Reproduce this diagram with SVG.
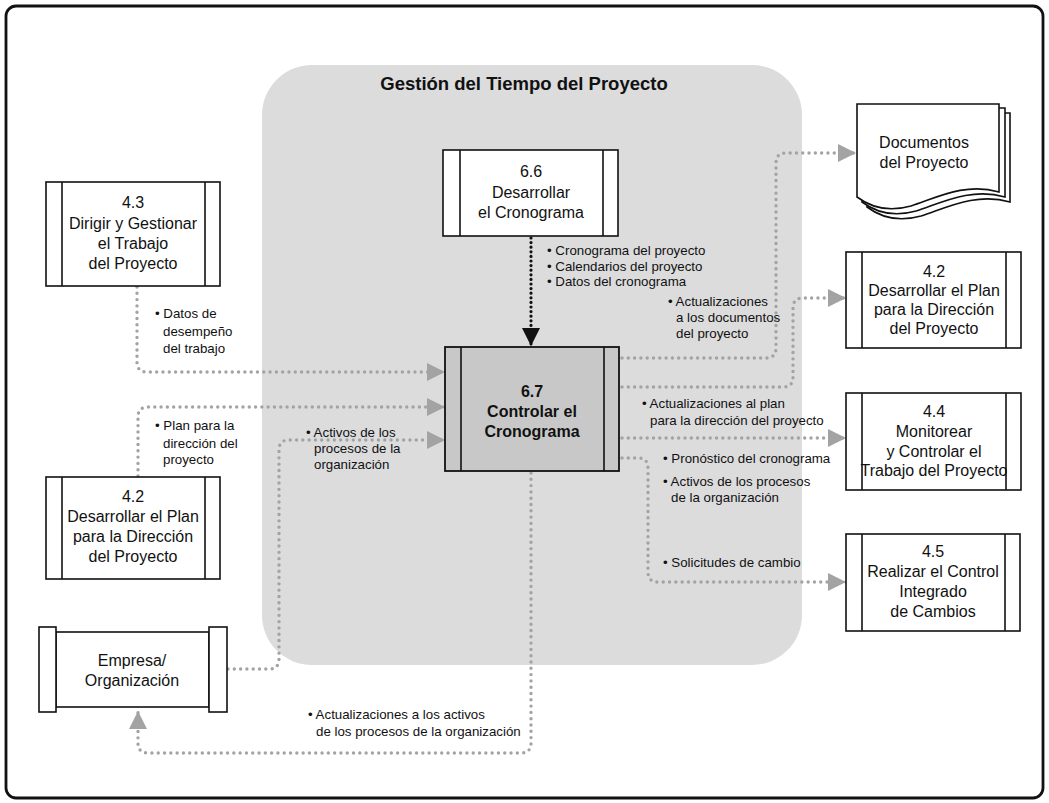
<svg xmlns="http://www.w3.org/2000/svg" width="1049" height="803" viewBox="0 0 1049 803">
<defs>
<style>
.frame{fill:#fff;stroke:#111;stroke-width:2.8}
.region{fill:#dcdcdd}
.box{fill:#fff;stroke:#111;stroke-width:1.6}
.box67{fill:#c8c8c8;stroke:#111;stroke-width:1.8}
.sep{stroke:#111;stroke-width:1.6}
.nt{font-family:"Liberation Sans",Arial,sans-serif;font-size:16px;fill:#111;text-anchor:middle}
.nb{font-family:"Liberation Sans",Arial,sans-serif;font-size:16px;font-weight:bold;fill:#111;text-anchor:middle}
.title{font-family:"Liberation Sans",Arial,sans-serif;font-size:18.5px;font-weight:bold;fill:#111;text-anchor:middle}
.lb{font-family:"Liberation Sans",Arial,sans-serif;font-size:13.3px;fill:#111}
.gd{fill:none;stroke:#a3a3a3;stroke-width:3.4;stroke-linecap:round;stroke-dasharray:0 6.3}
.bd{fill:none;stroke:#111;stroke-width:3.2;stroke-linecap:round;stroke-dasharray:0 4.6}
</style>
<marker id="ag" viewBox="0 0 10 10" refX="10" refY="5" markerWidth="18" markerHeight="18" markerUnits="userSpaceOnUse" orient="auto"><path d="M0,0 L10,5 L0,10 z" fill="#a3a3a3"/></marker>
<marker id="ab" viewBox="0 0 10 10" refX="10" refY="5" markerWidth="19" markerHeight="18" markerUnits="userSpaceOnUse" orient="auto"><path d="M0,0 L10,5 L0,10 z" fill="#111"/></marker>
</defs>

<rect class="frame" x="6" y="6" width="1037" height="792" rx="10"/>
<rect class="region" x="262" y="65" width="540" height="600" rx="50"/>
<text class="title" x="524" y="90">Gestión del Tiempo del Proyecto</text>

<g id="connectors">
<path class="bd" d="M531,238 V346" marker-end="url(#ab)"/>
<path class="gd" d="M137,287 V362 Q137,372 147,372 H445" marker-end="url(#ag)"/>
<path class="gd" d="M138,476 V417 Q138,407 148,407 H445" marker-end="url(#ag)"/>
<path class="gd" d="M228,669 H269 Q279,669 279,659 V450 Q279,440 289,440 H445" marker-end="url(#ag)"/>
<path class="gd" d="M622,358 H766 Q776,358 776,348 V163 Q776,153 786,153 H856" marker-end="url(#ag)"/>
<path class="gd" d="M622,387 H783 Q793,387 793,377 V308 Q793,298 803,298 H846" marker-end="url(#ag)"/>
<path class="gd" d="M622,438 H846" marker-end="url(#ag)"/>
<path class="gd" d="M622,458 H638 Q648,458 648,468 V572 Q648,582 658,582 H846" marker-end="url(#ag)"/>
<path class="gd" d="M531,473 V743 Q531,753 521,753 H148 Q138,753 138,743 V711" marker-end="url(#ag)"/>
</g>

<g id="labels">
<text class="lb" x="155" y="318">• Datos de</text>
<text class="lb" x="163" y="336">desempeño</text>
<text class="lb" x="163" y="353">del trabajo</text>
<text class="lb" x="155" y="430">• Plan para la</text>
<text class="lb" x="163" y="448">dirección del</text>
<text class="lb" x="163" y="464">proyecto</text>
<text class="lb" x="306" y="437">• Activos de los</text>
<text class="lb" x="314" y="453">procesos de la</text>
<text class="lb" x="314" y="469">organización</text>
<text class="lb" x="547" y="255">• Cronograma del proyecto</text>
<text class="lb" x="547" y="271">• Calendarios del proyecto</text>
<text class="lb" x="547" y="286">• Datos del cronograma</text>
<text class="lb" x="668" y="306">• Actualizaciones</text>
<text class="lb" x="676" y="322">a los documentos</text>
<text class="lb" x="676" y="338">del proyecto</text>
<text class="lb" x="642" y="408">• Actualizaciones al plan</text>
<text class="lb" x="650" y="425">para la dirección del proyecto</text>
<text class="lb" x="663" y="463">• Pronóstico del cronograma</text>
<text class="lb" x="663" y="486">• Activos de los procesos</text>
<text class="lb" x="671" y="502">de la organización</text>
<text class="lb" x="663" y="567">• Solicitudes de cambio</text>
<text class="lb" x="308" y="719">• Actualizaciones a los activos</text>
<text class="lb" x="316" y="736">de los procesos de la organización</text>
</g>

<g id="n43">
<rect class="box" x="46" y="182" width="174" height="104"/>
<line class="sep" x1="62" y1="182" x2="62" y2="286"/>
<line class="sep" x1="205" y1="182" x2="205" y2="286"/>
<text class="nt" x="133" y="208">4.3</text>
<text class="nt" x="133" y="229">Dirigir y Gestionar</text>
<text class="nt" x="133" y="249">el Trabajo</text>
<text class="nt" x="133" y="269">del Proyecto</text>
</g>

<g id="n42a">
<rect class="box" x="46" y="477" width="174" height="102"/>
<line class="sep" x1="62" y1="477" x2="62" y2="579"/>
<line class="sep" x1="205" y1="477" x2="205" y2="579"/>
<text class="nt" x="133" y="502">4.2</text>
<text class="nt" x="133" y="522">Desarrollar el Plan</text>
<text class="nt" x="133" y="542">para la Dirección</text>
<text class="nt" x="133" y="562">del Proyecto</text>
</g>

<g id="nEmpresa">
<rect class="box" x="56" y="632" width="153" height="75"/>
<rect class="box" x="39" y="627" width="17" height="85"/>
<rect class="box" x="209" y="627" width="18" height="85"/>
<text class="nt" x="132" y="666">Empresa/</text>
<text class="nt" x="132" y="686">Organización</text>
</g>

<g id="n66">
<rect class="box" x="443" y="150" width="175" height="86"/>
<line class="sep" x1="460" y1="150" x2="460" y2="236"/>
<line class="sep" x1="603" y1="150" x2="603" y2="236"/>
<text class="nt" x="531" y="177">6.6</text>
<text class="nt" x="531" y="198">Desarrollar</text>
<text class="nt" x="531" y="218">el Cronograma</text>
</g>

<g id="n67">
<rect class="box67" x="445" y="347" width="174" height="124"/>
<line class="sep" x1="461" y1="347" x2="461" y2="471"/>
<line class="sep" x1="604" y1="347" x2="604" y2="471"/>
<text class="nb" x="532" y="397">6.7</text>
<text class="nb" x="532" y="417">Controlar el</text>
<text class="nb" x="532" y="437">Cronograma</text>
</g>

<g id="nDocs">
<path class="box" d="M867,113 H1010 V202 C976,192 946,208 921,216 C896,223 879,216 867,207 Z"/>
<path class="box" d="M862,108 H1005 V197 C971,187 941,203 916,211 C891,218 874,211 862,202 Z"/>
<path class="box" d="M857,104 H999 V192 C965,182 936,198 911,206 C886,213 869,206 857,197 Z"/>
<text class="nt" x="924" y="148">Documentos</text>
<text class="nt" x="924" y="168">del Proyecto</text>
</g>

<g id="n42b">
<rect class="box" x="846" y="252" width="175" height="96"/>
<line class="sep" x1="862" y1="252" x2="862" y2="348"/>
<line class="sep" x1="1006" y1="252" x2="1006" y2="348"/>
<text class="nt" x="934" y="277">4.2</text>
<text class="nt" x="934" y="296">Desarrollar el Plan</text>
<text class="nt" x="934" y="315">para la Dirección</text>
<text class="nt" x="934" y="334">del Proyecto</text>
</g>

<g id="n44">
<rect class="box" x="846" y="393" width="175" height="97"/>
<line class="sep" x1="862" y1="393" x2="862" y2="490"/>
<line class="sep" x1="1006" y1="393" x2="1006" y2="490"/>
<text class="nt" x="934" y="417">4.4</text>
<text class="nt" x="934" y="437">Monitorear</text>
<text class="nt" x="934" y="457">y Controlar el</text>
<text class="nt" x="934" y="476">Trabajo del Proyecto</text>
</g>

<g id="n45">
<rect class="box" x="846" y="534" width="174" height="97"/>
<line class="sep" x1="862" y1="534" x2="862" y2="631"/>
<line class="sep" x1="1005" y1="534" x2="1005" y2="631"/>
<text class="nt" x="933" y="557">4.5</text>
<text class="nt" x="933" y="577">Realizar el Control</text>
<text class="nt" x="933" y="597">Integrado</text>
<text class="nt" x="933" y="617">de Cambios</text>
</g>
</svg>
